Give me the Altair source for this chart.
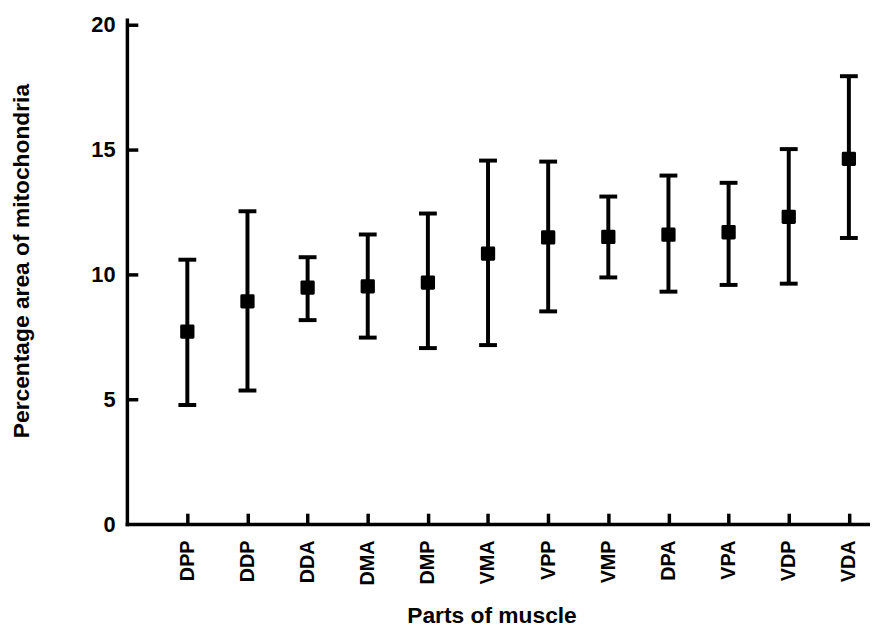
import altair as alt
import pandas as pd

parts = ["DPP", "DDP", "DDA", "DMA", "DMP", "VMA", "VPP", "VMP", "DPA", "VPA", "VDP", "VDA"]
mean = [7.71, 8.92, 9.47, 9.52, 9.67, 10.83, 11.48, 11.50, 11.59, 11.69, 12.31, 14.63]
low = [4.77, 5.35, 8.17, 7.47, 7.05, 7.17, 8.52, 9.88, 9.31, 9.58, 9.63, 11.46]
high = [10.59, 12.53, 10.69, 11.60, 12.44, 14.56, 14.52, 13.12, 13.96, 13.67, 15.02, 17.94]
y_tick_values = [0, 5, 10, 15, 20]

df = pd.DataFrame({"part": parts, "mean": mean, "low": low, "high": high})

FONT = "Liberation Sans"

xs = alt.Scale(type="point", domain=parts, padding=0.678, align=0.741)
ys = alt.Scale(domain=[0, 20.2], nice=False, zero=True)

x_main = alt.Axis(
    orient="bottom", domain=True, domainColor="black", domainWidth=3.5, domainCap="square",
    ticks=False, grid=False, labelAngle=270, labelFont=FONT, labelFontWeight="bold",
    labelFontSize=20, labelColor="black", labelPadding=16,
    title="Parts of muscle", titleFont=FONT, titleFontWeight="bold", titleFontSize=23,
    titleColor="black", titleX=368, titleY=92, titleBaseline="middle", titleAlign="center",
)
y_main = alt.Axis(
    orient="left", domain=True, domainColor="black", domainWidth=3.5, domainCap="square",
    ticks=False, grid=False, values=y_tick_values, labelFont=FONT, labelFontWeight="bold",
    labelFontSize=22, labelColor="black", labelPadding=12,
    title="Percentage area of mitochondria", titleFont=FONT, titleFontWeight="bold",
    titleFontSize=23, titleColor="black", titleX=-106, titleY=243, titleAngle=270,
    titleBaseline="middle", titleAlign="center",
)
x_tick_axis = alt.Axis(
    orient="bottom", offset=-11, tickSize=11, tickWidth=3.5, tickColor="black",
    domain=False, labels=False, grid=False, title=None,
)
y_tick_axis = alt.Axis(
    orient="left", offset=-11, tickSize=11, tickWidth=3.5, tickColor="black",
    values=[5, 10, 15, 20], domain=False, labels=False, grid=False, title=None,
)

base = alt.Chart(df)

rules = base.mark_rule(color="black", strokeWidth=4).encode(
    x=alt.X("part:N", scale=xs, axis=x_main, sort=parts),
    y=alt.Y("low:Q", scale=ys, axis=y_main),
    y2="high:Q",
)
caps_low = base.mark_tick(color="black", thickness=4, size=18, opacity=1).encode(
    x=alt.X("part:N", scale=xs, axis=x_tick_axis, sort=parts),
    y=alt.Y("low:Q", scale=ys, axis=y_tick_axis),
)
caps_high = base.mark_tick(color="black", thickness=4, size=18, opacity=1).encode(
    x=alt.X("part:N", scale=xs, axis=None, sort=parts),
    y=alt.Y("high:Q", scale=ys, axis=None),
)
points = base.mark_point(
    shape="square", filled=True, size=130, color="black", stroke="black",
    strokeWidth=3, strokeJoin="round", opacity=1,
).encode(
    x=alt.X("part:N", scale=xs, axis=None, sort=parts),
    y=alt.Y("mean:Q", scale=ys, axis=None),
)

chart = (
    alt.layer(rules, caps_low, caps_high, points)
    .resolve_axis(x="independent", y="independent")
    .properties(
        width=750, height=509,
        padding={"left": 120, "top": 9, "right": 0, "bottom": 104},
        autosize=alt.AutoSizeParams(type="none"),
        background="white",
    )
    .configure_view(stroke=None)
)

chart.save("out.html", embed_options={"renderer": "svg", "actions": False})
